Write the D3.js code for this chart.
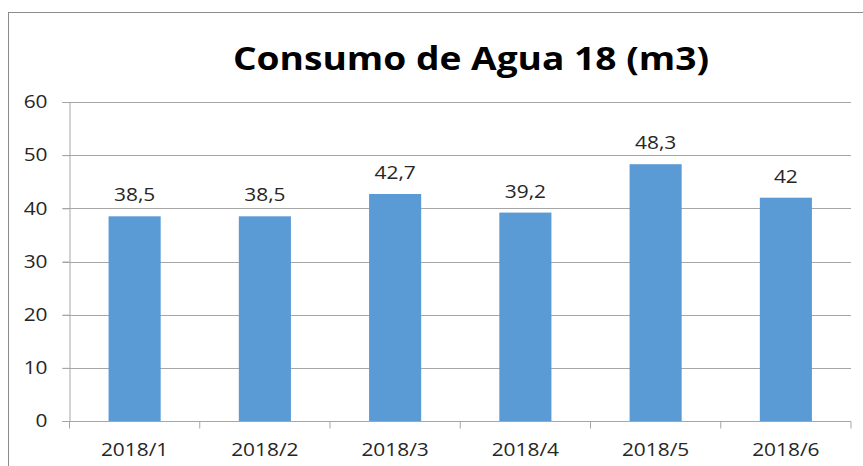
<!DOCTYPE html>
<html>
<head>
<meta charset="utf-8">
<title>Consumo de Agua 18</title>
<script src="https://d3js.org/d3.v7.min.js"></script>
<style>
body { margin: 0; background: #fff; }
text { font-family: "Open Sans", sans-serif; }
</style>
</head>
<body>
<svg width="863" height="466"></svg>
<script>
var titulo = "Consumo de Agua 18 (m3)";
var meses = ["2018/1", "2018/2", "2018/3", "2018/4", "2018/5", "2018/6"];
var consumo = [38.5, 38.5, 42.7, 39.2, 48.3, 42];
var yTicks = [0, 10, 20, 30, 40, 50, 60];

var svg = d3.select("svg"),
    width = +svg.attr("width"),
    height = +svg.attr("height");

var margin = {left: 69.5, right: 12, top: 102, bottom: 45};

// the source picture is a bit wider than tall, so text gets stretched too
function stretch(sel, k) {
  sel.each(function(){
    var w = this.getComputedTextLength();
    d3.select(this).attr("textLength", w * k).attr("lengthAdjust", "spacingAndGlyphs");
  });
}

// chart border (Excel frame)
svg.append("rect")
  .attr("x", 8.5).attr("y", 12.5)
  .attr("width", width).attr("height", height)
  .style("fill", "none").style("stroke", "#8c8c8c").style("stroke-width", 1);

var x = d3.scaleBand()
  .domain(meses)
  .range([margin.left, width - margin.right])
  .paddingInner(0.6).paddingOuter(0.3);

var xEdges = d3.scaleBand()
  .domain(meses)
  .range([margin.left, width - margin.right]);

var y = d3.scaleLinear()
  .domain([0, 60])
  .range([height - margin.bottom, margin.top]);

// gridlines
svg.append("g").selectAll("line")
  .data(yTicks.slice(1))
  .enter().append("line")
  .attr("x1", margin.left - 7).attr("x2", width - margin.right)
  .attr("y1", function(d){ return Math.round(y(d)) + 0.5; })
  .attr("y2", function(d){ return Math.round(y(d)) + 0.5; })
  .style("stroke", "#a6a6a6").style("stroke-width", 1);

// y axis
var yAxis = svg.append("g")
  .attr("transform", "translate(" + margin.left + ",0)")
  .call(d3.axisLeft(y).tickValues(yTicks).tickSize(7).tickPadding(15));
yAxis.select(".domain").style("stroke", "#a6a6a6");
yAxis.selectAll(".tick line").style("stroke", "#a6a6a6");
yAxis.selectAll("text")
  .style("font-size", "18px").style("fill", "#262626")
  .style("font-family", "'Open Sans', sans-serif");
stretch(yAxis.selectAll("text"), 1.16);

// bars
svg.append("g").selectAll("rect")
  .data(consumo)
  .enter().append("rect")
  .attr("x", function(d, i){ return x(meses[i]); })
  .attr("width", x.bandwidth())
  .attr("y", function(d){ return y(d); })
  .attr("height", function(d){ return y(0) - y(d); })
  .style("fill", "#5b9bd5");

// x axis
var y0 = Math.round(y(0)) + 0.5;
svg.append("line")
  .attr("x1", margin.left - 7).attr("x2", width - margin.right)
  .attr("y1", y0).attr("y2", y0)
  .style("stroke", "#a6a6a6");
var edges = meses.map(function(m){ return xEdges(m); });
edges.push(width - margin.right);
svg.append("g").selectAll("line")
  .data(edges)
  .enter().append("line")
  .attr("x1", function(d){ return d; }).attr("x2", function(d){ return d; })
  .attr("y1", y0).attr("y2", y0 + 7)
  .style("stroke", "#a6a6a6");
var xLabels = svg.append("g").selectAll("text")
  .data(meses)
  .enter().append("text")
  .attr("x", function(d){ return x(d) + x.bandwidth() / 2; })
  .attr("y", 456)
  .attr("text-anchor", "middle")
  .style("font-size", "18px").style("fill", "#262626")
  .text(function(d){ return d; });
stretch(xLabels, 1.16);

// data labels
var valLabels = svg.append("g").selectAll("text")
  .data(consumo)
  .enter().append("text")
  .attr("x", function(d, i){ return x(meses[i]) + x.bandwidth() / 2; })
  .attr("y", function(d){ return y(d) - 15; })
  .attr("text-anchor", "middle")
  .style("font-size", "18px").style("fill", "#262626")
  .text(function(d){ return String(d).replace(".", ","); });
stretch(valLabels, 1.16);

// title
var title = svg.append("text")
  .attr("x", 471).attr("y", 70)
  .attr("text-anchor", "middle")
  .style("font-size", "33px").style("font-weight", "bold").style("fill", "#000")
  .text(titulo);
stretch(title, 1.125);
</script>
</body>
</html>
